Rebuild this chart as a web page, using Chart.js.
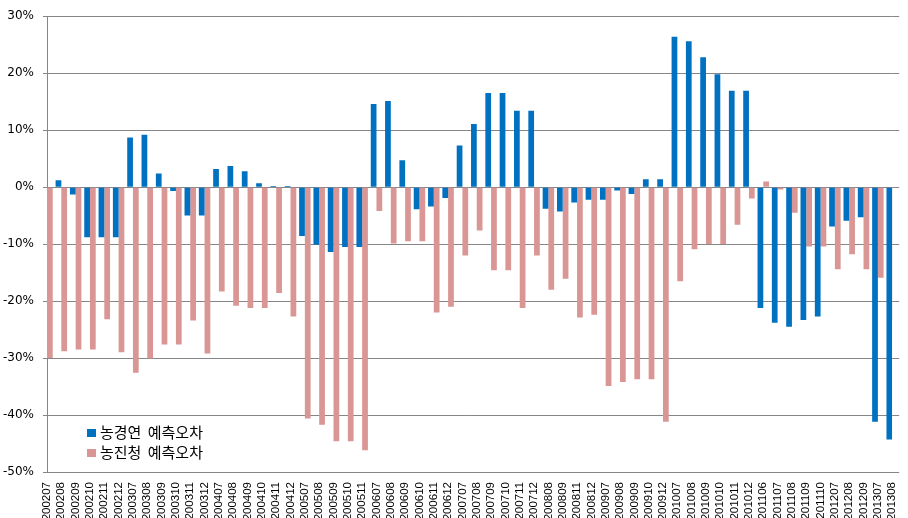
<!DOCTYPE html>
<html>
<head>
<meta charset="utf-8">
<script src="https://cdn.jsdelivr.net/npm/chart.js@4/dist/chart.umd.min.js"></script>
<style>
  body { margin: 0; background: #fff; }
  #wrap { position: relative; width: 908px; height: 518px; }
  #legend { position: absolute; left: 87px; top: 422px; font-family: "Noto Sans CJK KR", sans-serif; font-size: 15px; color: #000; }
  #legend div { height: 20px; line-height: 20px; white-space: nowrap; word-spacing: 3px; }
  #legend span { display: inline-block; width: 9px; height: 8px; margin-right: 4px; vertical-align: 1px; }
</style>
</head>
<body>
<div id="wrap">
  <canvas id="chart" width="908" height="518"></canvas>
  <div id="legend"></div>
</div>
<script>
// Categories (year + month)
const months = [
  "200207", "200208", "200209", "200210", "200211", "200212",
  "200307", "200308", "200309", "200310", "200311", "200312",
  "200407", "200408", "200409", "200410", "200411", "200412",
  "200507", "200508", "200509", "200510", "200511",
  "200607", "200608", "200609", "200610", "200611", "200612",
  "200707", "200708", "200709", "200710", "200711", "200712",
  "200808", "200809", "200811", "200812",
  "200907", "200908", "200909", "200910", "200912",
  "201007", "201008", "201009", "201010", "201011", "201012",
  "201106", "201107", "201108", "201109", "201110",
  "201207", "201208", "201209",
  "201307", "201308"
];

// 농경연 예측오차 (%) - first bar is hidden behind the axis in the original
const nkyError = [
  null, 1.2, -1.3, -8.8, -8.8, -8.8,
  8.7, 9.2, 2.4, -0.7, -5.0, -5.0,
  3.2, 3.7, 2.8, 0.7, 0.2, 0.2,
  -8.6, -10.1, -11.4, -10.5, -10.5,
  14.6, 15.1, 4.7, -3.9, -3.4, -1.9,
  7.3, 11.1, 16.5, 16.5, 13.4, 13.4,
  -3.8, -4.3, -2.7, -2.2,
  -2.2, -0.6, -1.2, 1.4, 1.4,
  26.4, 25.6, 22.8, 19.8, 16.9, 16.9,
  -21.2, -23.8, -24.5, -23.3, -22.7,
  -6.9, -5.9, -5.3,
  -41.2, -44.3
];

// 농진청 예측오차 (%)
const rdaError = [
  -30.0, -28.8, -28.5, -28.5, -23.2, -29.0,
  -32.6, -30.1, -27.6, -27.6, -23.4, -29.2,
  -18.3, -20.8, -21.2, -21.2, -18.6, -22.7,
  -40.6, -41.7, -44.6, -44.6, -46.2,
  -4.2, -9.9, -9.5, -9.5, -22.0, -21.0,
  -12.0, -7.6, -14.6, -14.6, -21.2, -12.0,
  -18.0, -16.1, -22.9, -22.4,
  -34.9, -34.2, -33.7, -33.7, -41.2,
  -16.5, -10.9, -10.0, -10.0, -6.6, -2.0,
  1.0, -0.4, -4.5, -10.4, -10.4,
  -14.4, -11.8, -14.4,
  -15.9, -23.3
];

const seriesNames = ["농경연 예측오차", "농진청 예측오차"];
const seriesColors = ["#0070C0", "#D99694"];
const yMin = -50, yMax = 30, yStep = 10;

const gridColor = "#868686";

// the gridlines run a bit past the last category, as in the original
const gridExtend = {
  id: "gridExtend",
  beforeDatasetsDraw(chart) {
    const { ctx, chartArea, scales } = chart;
    ctx.save();
    ctx.strokeStyle = gridColor;
    ctx.lineWidth = 1;
    for (let v = yMin; v <= yMax; v += yStep) {
      const y = Math.round(scales.y.getPixelForValue(v)) + 0.5;
      ctx.beginPath();
      ctx.moveTo(chartArea.right, y);
      ctx.lineTo(chartArea.right + 7, y);
      ctx.stroke();
    }
    ctx.restore();
  }
};

new Chart(document.getElementById("chart").getContext("2d"), {
  type: "bar",
  data: {
    labels: months,
    datasets: [
      { label: seriesNames[0], data: nkyError, backgroundColor: seriesColors[0] },
      { label: seriesNames[1], data: rdaError, backgroundColor: seriesColors[1] }
    ]
  },
  options: {
    responsive: false,
    animation: false,
    layout: { padding: { top: 12, right: 10, bottom: 0, left: 0 } },
    datasets: { bar: { categoryPercentage: 0.8, barPercentage: 1.0 } },
    plugins: { legend: { display: false }, tooltip: { enabled: false } },
    scales: {
      x: {
        offset: false,
        grid: { display: false },
        border: { display: true, color: gridColor },
        ticks: {
          autoSkip: false,
          minRotation: 90,
          maxRotation: 90,
          padding: 2,
          color: "#000",
          font: { family: "Liberation Sans", size: 11.5 }
        },
        afterFit: (scale) => { scale.height = 46; }
      },
      y: {
        min: yMin,
        max: yMax,
        grid: { color: gridColor, lineWidth: 1, tickLength: 4 },
        border: { color: gridColor },
        ticks: {
          stepSize: yStep,
          padding: 9,
          color: "#000",
          font: { family: "DejaVu Sans", size: 12 },
          callback: (v) => v + "%"
        },
        afterFit: (scale) => { scale.width = 47; }
      }
    }
  },
  plugins: [gridExtend]
});

// Legend
const legend = document.getElementById("legend");
seriesNames.forEach((name, i) => {
  const row = document.createElement("div");
  const box = document.createElement("span");
  box.style.background = seriesColors[i];
  row.appendChild(box);
  row.appendChild(document.createTextNode(name));
  legend.appendChild(row);
});
</script>
</body>
</html>
